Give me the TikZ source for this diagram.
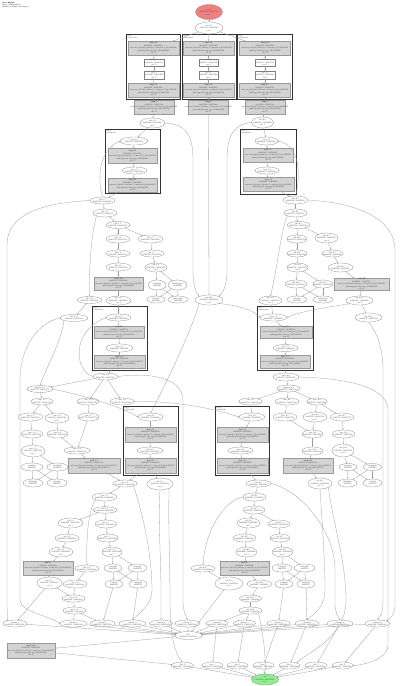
\documentclass[tikz,border=0pt]{standalone}
\usepackage{fontspec}
\setmainfont{Liberation Serif}
\usetikzlibrary{shapes.geometric,arrows.meta}
\definecolor{redfill}{HTML}{F08080}
\definecolor{greenfill}{HTML}{90EE90}
\definecolor{grayfill}{HTML}{D3D3D3}
\definecolor{edgecol}{HTML}{9A9A9A}
\tikzset{
 en/.style={ellipse,draw=black!45,line width=0.3pt,inner sep=0pt,outer sep=0pt},
 gr/.style={rectangle,draw=black!40,fill=grayfill,line width=0.3pt,inner sep=0pt,outer sep=0pt},
 wr/.style={rectangle,draw=black!50,fill=white,line width=0.3pt,inner sep=0pt,outer sep=0pt},
 lbl/.style={inner sep=0pt,outer sep=0pt,align=center,font=\fontsize{2}{2.35}\selectfont,text=black!75},
 cl/.style={draw=black!80,line width=0.9pt},
 cll/.style={inner sep=0pt,align=left,anchor=north west,font=\fontsize{1.7}{2}\selectfont,text=black!75},
 ed/.style={draw=edgecol,line width=0.28pt,-{Stealth[length=1.5pt,width=1.2pt]}},
}
\newcommand{\EN}[6]{\node[en,minimum width=#4pt,minimum height=#5pt,label={[lbl]center:{#6}}] (#1) at (#2,#3) {};}
\newcommand{\GR}[6]{\node[gr,minimum width=#4pt,minimum height=#5pt,label={[lbl]center:{#6}}] (#1) at (#2,#3) {};}
\newcommand{\WR}[6]{\node[wr,minimum width=#4pt,minimum height=#5pt,label={[lbl]center:{#6}}] (#1) at (#2,#3) {};}
\newcommand{\lblA}[2]{#1\\0x40#2 - 0x40#2c}
\newcommand{\lblB}[3]{#1\\0x40#2 - 0x40#2c\\#3}
\newcommand{\lblC}[2]{#1\\#2}
\newcommand{\lblG}[2]{\textbf{#1}\\0x40#2 - 0x40#2c\\mov eax, [ebp-0xc]; add eax, 1; cmp eax, 9; jle 0x40#2\\push ebp; mov ebp, esp; call 0x40#2\\cnt: 12}
\begin{document}
\begin{tikzpicture}[x=1pt,y=-1pt]
\fill[white] (0,0) rectangle (400,686);
\useasboundingbox (0,0) rectangle (400,686);
\node[anchor=north west,inner sep=0pt,align=left,font=\fontsize{1.8}{2.1}\selectfont] (hdr) at (2,2) {\textbf{trace\_callgraph}\\binary: ./a.out (pid 4312)\\functions: 131, edges: 218, loops: 9};
% top
\node[en,fill=redfill,minimum width=27pt,minimum height=15pt,label={[lbl]center:{\lblB{main}{1000}{cnt: 1}}}] (start) at (209,12) {};
\EN{n0}{209}{28}{28}{12}{\lblB{init\_0.1}{1030}{cnt: 1}}
% clusters 1-3
\draw[cl] (126,34) rectangle (180.5,99);
\node[cll] (c1l) at (127.5,35.5) {loop\_1\\hdr 0x401040};
\GR{g1a}{153.5}{48}{51}{14}{\lblG{loop\_1.0}{1040}}
\WR{r1a}{154}{62.5}{19.5}{7.5}{\lblB{bb\_1.1}{1070}{cnt: 3}}
\WR{r1b}{154}{75}{19.5}{8}{\lblB{bb\_1.2}{1080}{cnt: 3}}
\GR{g1b}{153.5}{90}{51}{14}{\lblG{loop\_1.3}{1090}}
\draw[cl] (182,34) rectangle (236,99);
\node[cll] (c2l) at (183.5,35.5) {loop\_2\\hdr 0x401140};
\GR{g2a}{208.5}{48}{51}{14}{\lblG{loop\_2.0}{1140}}
\WR{r2a}{208.5}{62.5}{19.5}{7.5}{\lblB{bb\_2.1}{1170}{cnt: 3}}
\WR{r2b}{208.5}{75}{19.5}{8}{\lblB{bb\_2.2}{1180}{cnt: 3}}
\GR{g2b}{208.5}{90}{51}{14}{\lblG{loop\_2.3}{1190}}
\draw[cl] (237,34) rectangle (292,99);
\node[cll] (c3l) at (238.5,35.5) {loop\_3\\hdr 0x401240};
\GR{g3a}{265}{48}{51}{14}{\lblG{loop\_3.0}{1240}}
\WR{r3a}{265}{62.5}{19.5}{7.5}{\lblB{bb\_3.1}{1270}{cnt: 3}}
\WR{r3b}{265}{75}{19.5}{8}{\lblB{bb\_3.2}{1280}{cnt: 3}}
\GR{g3b}{265}{90}{51}{14}{\lblG{loop\_3.3}{1290}}
\GR{h1}{154}{107}{40}{14}{\lblG{setup\_a}{1300}}
\GR{h2}{208.5}{107}{40}{14}{\lblG{setup\_b}{1340}}
\GR{h3}{265}{107}{40}{14}{\lblG{setup\_c}{1380}}
\EN{L0}{152.5}{123}{25}{10}{\lblB{run\_L.0}{1400}{cnt: 2}}
\EN{R0}{262.5}{122.5}{22}{11}{\lblB{run\_R.0}{2400}{cnt: 2}}
% cluster 4
\draw[cl] (105,129) rectangle (160,193);
\node[cll] (c4l) at (106.5,130.5) {loop\_4\\hdr 0x401410};
\EN{c4a}{134}{141}{28}{8}{\lblA{loop\_4.0}{1410}}
\GR{c4g1}{132.5}{156}{49}{15}{\lblG{loop\_4.1}{1420}}
\EN{c4b}{134.5}{170.5}{25}{7}{\lblA{loop\_4.2}{1450}}
\GR{c4g2}{132.5}{185}{49}{13.5}{\lblG{loop\_4.3}{1460}}
% cluster 5
\draw[cl] (240,129) rectangle (296,194);
\node[cll] (c5l) at (241.5,130.5) {loop\_5\\hdr 0x402410};
\EN{c5a}{266.5}{141}{23}{8}{\lblA{loop\_5.0}{2410}}
\GR{c5g1}{268}{155}{50}{14}{\lblG{loop\_5.1}{2420}}
\EN{c5b}{267}{170.5}{24}{7}{\lblA{loop\_5.2}{2450}}
\GR{c5g2}{268.5}{184.5}{51}{14}{\lblG{loop\_5.3}{2460}}
% left middle
\EN{L1}{102.5}{200.5}{25}{7}{\lblA{blk\_L.1}{1500}}
\EN{L2}{105}{213}{24}{8}{\lblA{blk\_L.2}{1510}}
\EN{L3}{118}{225}{24}{7}{\lblA{blk\_L.3}{1520}}
\EN{L4}{118}{239}{24}{8}{\lblA{blk\_L.4}{1530}}
\EN{L4s}{150.5}{239}{25}{8}{\lblA{blk\_L.5}{1540}}
\EN{L5}{118}{253.5}{24}{7}{\lblA{blk\_L.6}{1550}}
\EN{L5s}{152}{253.5}{24}{7}{\lblA{blk\_L.7}{1560}}
\EN{L6}{118.5}{267}{25}{8}{\lblA{blk\_L.8}{1570}}
\EN{L6s}{156}{267.5}{22}{9}{\lblB{blk\_L.9}{1580}{cnt: 4}}
\GR{Lg}{118.5}{283.5}{49}{13}{\lblG{work\_L.0}{1590}}
\EN{La}{157}{285}{18}{10}{\lblC{strlen@plt}{0x4010a0}}
\EN{Lb}{177.5}{285}{19}{10}{\lblC{memcpy@plt}{0x4010b0}}
\EN{Lc}{156}{299.5}{18}{7}{\lblC{free@plt}{0x4010c0}}
\EN{Ld}{178}{299.5}{20}{7}{\lblC{malloc@plt}{0x4010d0}}
\EN{Lx}{89.5}{300}{25}{7}{\lblA{blk\_L.10}{15a0}}
\EN{L7}{118.5}{300.5}{25}{9}{\lblB{blk\_L.11}{15b0}{cnt: 4}}
\EN{M}{209}{300}{28}{10}{\lblB{join\_M.0}{3000}{cnt: 2}}
% right middle
\EN{R1}{295.5}{200}{25}{8}{\lblA{blk\_R.1}{2500}}
\EN{R2}{295.5}{213}{23}{8}{\lblA{blk\_R.2}{2510}}
\EN{R3}{298.5}{225}{23}{7}{\lblA{blk\_R.3}{2520}}
\EN{R4}{297}{239}{20}{8}{\lblA{blk\_R.4}{2530}}
\EN{R4s}{326.5}{238}{23}{10}{\lblB{blk\_R.5}{2540}{cnt: 4}}
\EN{R5}{297}{253.5}{20}{7}{\lblA{blk\_R.6}{2550}}
\EN{R5s}{332.5}{253.5}{21}{7}{\lblA{blk\_R.7}{2560}}
\EN{R6}{297.5}{267.5}{21}{9}{\lblB{blk\_R.8}{2570}{cnt: 4}}
\EN{R6s}{340.5}{267.5}{25}{9}{\lblA{blk\_R.9}{2580}}
\EN{Ra}{296}{284}{22}{8}{\lblA{blk\_R.10}{25a0}}
\EN{Rb}{323}{284}{20}{8}{\lblA{blk\_R.11}{25b0}}
\EN{Rc}{297}{299.5}{20}{7}{\lblC{free@plt}{0x4010c0}}
\EN{Rd}{323}{299.5}{20}{7}{\lblC{malloc@plt}{0x4010d0}}
\GR{Rg}{361.5}{284}{55}{12}{\lblG{work\_R.0}{2590}}
\EN{Rx}{270.5}{300.5}{23}{9}{\lblB{blk\_R.12}{25c0}{cnt: 4}}
\EN{R7}{359.5}{300.5}{27}{9}{\lblB{blk\_R.13}{25d0}{cnt: 4}}
\EN{R8}{368.5}{317.5}{27}{9}{\lblA{blk\_R.14}{25e0}}
\EN{Lout}{74}{318}{28}{7}{\lblA{blk\_L.12}{15c0}}
% cluster 6
\draw[cl] (92,306) rectangle (147,370);
\node[cll] (c6l) at (93.5,307.5) {loop\_6\\hdr 0x401600};
\EN{c6a}{118.5}{317.5}{25}{7}{\lblA{loop\_6.0}{1600}}
\GR{c6g1}{119}{332}{50}{12}{\lblG{loop\_6.1}{1610}}
\EN{c6b}{119.5}{348}{27}{8}{\lblA{loop\_6.2}{1640}}
\GR{c6g2}{119.5}{361.5}{51}{13}{\lblG{loop\_6.3}{1650}}
% cluster 7
\draw[cl] (257,306) rectangle (313,370);
\node[cll] (c7l) at (258.5,307.5) {loop\_7\\hdr 0x402600};
\EN{c7a}{273.5}{317.5}{27}{7}{\lblA{loop\_7.0}{2600}}
\GR{c7g1}{286}{332}{52}{12}{\lblG{loop\_7.1}{2610}}
\EN{c7b}{285.5}{348}{25}{7}{\lblA{loop\_7.2}{2640}}
\GR{c7g2}{285}{361.5}{50}{13}{\lblG{loop\_7.3}{2650}}
% left lower group
\EN{L8}{105.5}{376.5}{25}{7}{\lblA{next\_L.0}{1700}}
\EN{A1}{40}{389}{26}{7}{\lblA{dispatch\_L.1}{1710}}
\EN{A2}{42}{401.5}{22}{7}{\lblA{case\_L.2}{1720}}
\EN{A3}{88}{401.5}{22}{7}{\lblA{case\_L.3}{1730}}
\EN{A4}{122}{401.5}{24}{7}{\lblA{case\_L.4}{1740}}
\EN{A5}{30.5}{417}{25}{8}{\lblA{case\_L.5}{1750}}
\EN{A6}{57}{418}{24}{10}{\lblB{case\_L.6}{1760}{cnt: 2}}
\EN{A7}{88.5}{417}{21}{8}{\lblA{case\_L.7}{1770}}
\EN{A8}{32}{434}{22}{8}{\lblA{case\_L.8}{1780}}
\EN{A9}{57.5}{434}{21}{8}{\lblA{case\_L.9}{1790}}
\EN{A10}{77}{450.5}{26}{7}{\lblA{case\_L.10}{17a0}}
\EN{A11}{33}{451}{24}{12}{\lblB{case\_L.11}{17b0}{cnt: 2}}
\EN{A12}{32}{467}{22}{8}{\lblC{puts@plt}{0x4010e0}}
\EN{A13}{57.5}{467}{21}{8}{\lblC{printf@plt}{0x4010f0}}
\EN{A14}{33}{483}{20}{8}{\lblC{fflush@plt}{0x401100}}
\EN{A15}{57}{483}{20}{8}{\lblC{exit@plt}{0x401110}}
\GR{Ag}{94}{465.5}{52}{15}{\lblG{work\_L.1}{17c0}}
% cluster 8
\draw[cl] (123,406) rectangle (178,475);
\node[cll] (c8l) at (124.5,407.5) {loop\_8\\hdr 0x401800};
\EN{c8a}{150.5}{417}{25}{8}{\lblA{loop\_8.0}{1800}}
\GR{c8g1}{150.5}{434.5}{51}{15}{\lblG{loop\_8.1}{1810}}
\EN{c8b}{150}{450.5}{26}{7}{\lblA{loop\_8.2}{1840}}
\GR{c8g2}{150.5}{465.5}{51}{15}{\lblG{loop\_8.3}{1850}}
% right lower group
\EN{B0}{286}{377}{26}{8}{\lblA{next\_R.0}{2700}}
\EN{B1}{288.5}{388.5}{23}{7}{\lblA{dispatch\_R.1}{2710}}
\EN{B2}{250.5}{401.5}{23}{7}{\lblA{case\_R.2}{2720}}
\EN{B3}{287}{401.5}{24}{7}{\lblA{case\_R.3}{2730}}
\EN{B4}{317}{401.5}{20}{7}{\lblA{case\_R.4}{2740}}
\EN{B5}{285}{417}{24}{8}{\lblA{case\_R.5}{2750}}
\EN{B6}{315}{417}{24}{10}{\lblB{case\_R.6}{2760}{cnt: 2}}
\EN{B7}{342}{417}{24}{8}{\lblA{case\_R.7}{2770}}
\EN{B8}{312.5}{434}{21}{8}{\lblA{case\_R.8}{2780}}
\EN{B9}{343.5}{434}{23}{8}{\lblA{case\_R.9}{2790}}
\EN{B10}{312.5}{451}{21}{8}{\lblA{case\_R.10}{27a0}}
\EN{B11}{343}{450.5}{22}{13}{\lblB{case\_R.11}{27b0}{cnt: 2}}
\GR{Bg}{308}{465.5}{50}{15}{\lblG{work\_R.1}{27c0}}
\EN{B12}{348}{467}{18}{7}{\lblC{puts@plt}{0x4010e0}}
\EN{B13}{372.5}{467}{19}{7}{\lblC{printf@plt}{0x4010f0}}
\EN{B14}{347.5}{483}{19}{8}{\lblC{fflush@plt}{0x401100}}
\EN{B15}{372.5}{483}{19}{8}{\lblC{exit@plt}{0x401110}}
% cluster 9
\draw[cl] (215,406) rectangle (269,475);
\node[cll] (c9l) at (216.5,407.5) {loop\_9\\hdr 0x402800};
\EN{c9a}{252}{417}{26}{8}{\lblA{loop\_9.0}{2800}}
\GR{c9g1}{242.5}{434.5}{51}{15}{\lblG{loop\_9.1}{2810}}
\EN{c9b}{240.5}{450.5}{25}{7}{\lblA{loop\_9.2}{2840}}
\GR{c9g2}{242.5}{465.5}{51}{15}{\lblG{loop\_9.3}{2850}}
% bottom left chain
\EN{C1}{125}{483.5}{24}{7}{\lblA{tail\_L.0}{1900}}
\EN{C2}{160}{484}{26}{12}{\lblB{tail\_L.1}{1910}{cnt: 6}}
\EN{C3}{104.5}{497}{25}{8}{\lblA{tail\_L.2}{1920}}
\EN{C4}{105}{510}{24}{6.5}{\lblA{tail\_L.3}{1930}}
\EN{C5}{70.5}{523}{25}{10}{\lblB{tail\_L.4}{1940}{cnt: 2}}
\EN{C6}{106}{524}{22}{8}{\lblA{tail\_L.5}{1950}}
\EN{C7}{67}{538}{24}{8}{\lblA{tail\_L.6}{1960}}
\EN{C8}{107.5}{538}{21}{8}{\lblA{tail\_L.7}{1970}}
\EN{C9}{61}{552}{24}{10}{\lblB{tail\_L.8}{1980}{cnt: 2}}
\EN{C10}{112}{552}{20}{10}{\lblB{tail\_L.9}{1990}{cnt: 2}}
\GR{Cg}{48}{568}{50}{14}{\lblG{final\_L}{19a0}}
\EN{C11}{87}{568.5}{24}{7}{\lblA{tail\_L.10}{19b0}}
\EN{C12}{113}{568}{18}{8}{\lblC{close@plt}{0x401120}}
\EN{C13}{137.5}{568}{19}{8}{\lblC{write@plt}{0x401130}}
\EN{C14}{49.5}{583}{25}{12}{\lblB{tail\_L.11}{19c0}{cnt: 1}}
\EN{C15}{75}{584}{24}{8}{\lblA{tail\_L.12}{19d0}}
\EN{C16}{114}{584}{18}{8}{\lblC{read@plt}{0x401140}}
\EN{C17}{138}{584}{18}{8}{\lblC{open@plt}{0x401150}}
\EN{C18}{73.5}{598.5}{23}{7}{\lblA{tail\_L.13}{19e0}}
\EN{C19}{74.5}{610.5}{23}{7}{\lblA{tail\_L.14}{19f0}}
% bottom right chain
\EN{D1}{258.5}{483.5}{25}{7}{\lblA{tail\_R.0}{2900}}
\EN{D2}{320}{483.5}{24}{11}{\lblB{tail\_R.1}{2910}{cnt: 6}}
\EN{D3}{254.5}{497}{23}{8}{\lblA{tail\_R.2}{2920}}
\EN{D4}{254}{510}{22}{8}{\lblA{tail\_R.3}{2930}}
\EN{D5}{248.5}{523}{23}{10}{\lblB{tail\_R.4}{2940}{cnt: 2}}
\EN{D6}{279}{524}{22}{8}{\lblA{tail\_R.5}{2950}}
\EN{D7}{244.5}{538}{23}{8}{\lblA{tail\_R.6}{2960}}
\EN{D8}{280}{538}{20}{8}{\lblA{tail\_R.7}{2970}}
\EN{D9}{246.5}{552}{21}{10}{\lblB{tail\_R.8}{2980}{cnt: 2}}
\EN{D10}{282.5}{552}{21}{10}{\lblB{tail\_R.9}{2990}{cnt: 2}}
\GR{Dg}{244.5}{568}{49}{14}{\lblG{final\_R}{29a0}}
\EN{D11}{203}{568.5}{24}{7}{\lblA{tail\_R.10}{29b0}}
\EN{D12}{282}{568}{20}{8}{\lblC{close@plt}{0x401120}}
\EN{D13}{304.5}{568}{21}{8}{\lblC{write@plt}{0x401130}}
\EN{D14}{229}{583.5}{28}{13}{\lblB{tail\_R.11}{29c0}{cnt: 1}}
\EN{D15}{259.5}{584}{25}{8}{\lblA{tail\_R.12}{29d0}}
\EN{D16}{284}{584}{18}{8}{\lblC{read@plt}{0x401140}}
\EN{D17}{306}{584}{18}{8}{\lblC{open@plt}{0x401150}}
\EN{D18}{250.5}{598.5}{22}{7}{\lblA{tail\_R.13}{29e0}}
\EN{D19}{250.5}{610.5}{23}{7}{\lblA{tail\_R.14}{29f0}}
% row 623
\EN{E1}{15}{623.5}{24}{7}{\lblA{cleanup\_0}{3100}}
\EN{E2}{73.5}{623.5}{27}{7}{\lblA{cleanup\_1}{3110}}
\EN{E3}{102.5}{623.5}{25}{7}{\lblA{cleanup\_2}{3120}}
\EN{E4}{132.5}{623.5}{27}{7}{\lblA{cleanup\_3}{3130}}
\EN{E5}{161}{623.5}{23}{7}{\lblA{cleanup\_4}{3140}}
\EN{E6}{187.5}{623.5}{25}{7}{\lblA{cleanup\_5}{3150}}
\EN{E7}{217}{623.5}{22}{7}{\lblA{cleanup\_6}{3160}}
\EN{E8}{244.5}{623.5}{22}{7}{\lblA{cleanup\_7}{3170}}
\EN{E9}{278.5}{623.5}{23}{7}{\lblA{cleanup\_8}{3180}}
\EN{E10}{307}{623.5}{24}{7}{\lblA{cleanup\_9}{3190}}
\EN{E11}{340}{623.5}{26}{7}{\lblA{cleanup\_10}{31a0}}
\EN{E12}{377.5}{623.5}{25}{7}{\lblA{cleanup\_11}{31b0}}
\EN{X}{188.5}{635.5}{27}{8}{\lblC{fini}{0x403200 - 0x40320c}}
\GR{F}{31}{650.5}{48}{15}{\lblG{atexit\_run}{3300}}
\EN{G1}{182.5}{665.5}{22}{7}{\lblA{dtor\_0}{3400}}
\EN{G2}{212.5}{665.5}{21}{7}{\lblA{dtor\_1}{3410}}
\EN{G3}{237.5}{665.5}{21}{7}{\lblA{dtor\_2}{3420}}
\EN{G4}{263.5}{665.5}{21}{7}{\lblA{dtor\_3}{3430}}
\EN{G5}{289.5}{665.5}{21}{7}{\lblA{dtor\_4}{3440}}
\EN{G6}{316}{665.5}{22}{7}{\lblA{dtor\_5}{3450}}
\EN{G7}{342.5}{665.5}{21}{7}{\lblA{dtor\_6}{3460}}
\node[en,fill=greenfill,minimum width=27pt,minimum height=11pt,label={[lbl]center:{\lblB{exit}{3500}{cnt: 1}}}] (end) at (265,679.5) {};
% ---------------- edges ----------------
\draw[ed] (start) -- (n0);
\draw[ed] (n0) -- (g1a); \draw[ed] (n0) -- (g2a); \draw[ed] (n0) -- (g3a);
\foreach \i in {1,2,3}{
 \draw[ed] (g\i a) -- (r\i a); \draw[ed] (r\i a) -- (r\i b); \draw[ed] (r\i b) -- (g\i b);
}
\draw[ed] (g1b) -- (h1); \draw[ed] (g2b) -- (h2); \draw[ed] (g3b) -- (h3);
\draw[ed] (h1) -- (L0); \draw[ed] (h3) -- (R0);
\draw[ed] (h2) -- (M);
\draw[ed] (L0) -- (c4a); \draw[ed] (c4a) -- (c4g1); \draw[ed] (c4g1) -- (c4b); \draw[ed] (c4b) -- (c4g2); \draw[ed] (c4g2) -- (L1);
\draw[ed] (L1.north) .. controls (97,178) and (99,150) .. (c4a.west);
\draw[ed] (L0.east) .. controls (186,124) and (193,135) .. (193,160) -- (193,270) .. controls (193,288) and (197,293) .. (M.north west);
\draw[ed] (R0) -- (c5a); \draw[ed] (c5a) -- (c5g1); \draw[ed] (c5g1) -- (c5b); \draw[ed] (c5b) -- (c5g2); \draw[ed] (c5g2) -- (R1);
\draw[ed] (R1.north) .. controls (301,175) and (300,146) .. (c5a.east);
\draw[ed] (R0.west) .. controls (234,124) and (227,135) .. (227,160) -- (227,270) .. controls (227,288) and (222,293) .. (M.north east);
\draw[ed] (L1.west) .. controls (40,203) and (7,215) .. (7,245) -- (7,605) .. controls (7,614) and (9,618) .. (E1.north west);
\draw[ed] (R1.east) .. controls (360,203) and (395,220) .. (395,250) -- (395,605) .. controls (395,614) and (391,618) .. (E12.north east);
\draw[ed] (L1) -- (L2); \draw[ed] (L2) -- (L3); \draw[ed] (L3) -- (L4); \draw[ed] (L4) -- (L5); \draw[ed] (L5) -- (L6); \draw[ed] (L6) -- (Lg); \draw[ed] (Lg) -- (L7); \draw[ed] (L7) -- (c6a);
\draw[ed] (c6a) -- (c6g1); \draw[ed] (c6g1) -- (c6b); \draw[ed] (c6b) -- (c6g2); \draw[ed] (c6g2) -- (L8);
\draw[ed] (L2.south west) .. controls (91,235) and (89,270) .. (Lx.north);
\draw[ed] (Lx) -- (Lout);
\draw[ed] (L3) -- (L4s); \draw[ed] (L4s) -- (L5s); \draw[ed] (L5s) -- (L6s); \draw[ed] (L6s) -- (La); \draw[ed] (L6s) -- (Lb);
\draw[ed] (La) -- (Lc); \draw[ed] (La) -- (Ld); \draw[ed] (Lb) -- (Lc); \draw[ed] (Lb) -- (Ld);
\draw[ed] (M.south east) .. controls (235,305) and (252,309) .. (c7a.west);
\draw[ed] (M.south west) .. controls (192,330) and (162,392) .. (c8a.north);
\draw[ed] (R1) -- (R2); \draw[ed] (R2) -- (R3); \draw[ed] (R3) -- (R4); \draw[ed] (R4) -- (R5); \draw[ed] (R5) -- (R6); \draw[ed] (R6) -- (Ra); \draw[ed] (R6) -- (Rb);
\draw[ed] (Ra) -- (Rc); \draw[ed] (Ra) -- (Rd); \draw[ed] (Rb) -- (Rc); \draw[ed] (Rb) -- (Rd);
\draw[ed] (R3) -- (R4s); \draw[ed] (R4s) -- (R5s); \draw[ed] (R5s) -- (R6s); \draw[ed] (R6s) -- (Rg); \draw[ed] (Rg) -- (R7); \draw[ed] (R7) -- (R8);
\draw[ed] (R7.south west) .. controls (335,306) and (300,311) .. (c7a.east);
\draw[ed] (R2.south west) .. controls (281,230) and (277,270) .. (Rx.north);
\draw[ed] (Rx) -- (c7a);
\draw[ed] (c7a) -- (c7g1); \draw[ed] (c7g1) -- (c7b); \draw[ed] (c7b) -- (c7g2); \draw[ed] (c7g2) -- (B0);
\draw[ed] (Lout.south west) .. controls (60,345) and (45,370) .. (A1.north);
\draw[ed] (Lout.west) .. controls (40,322) and (20,345) .. (20,380) -- (20,600) .. controls (20,612) and (50,616) .. (E2.west);
\draw[ed] (L8.west) .. controls (75,372) and (70,332) .. (c6a.west);
\draw[ed] (L8) -- (A1); \draw[ed] (L8) -- (A3); \draw[ed] (L8) -- (A4);
\draw[ed] (L8.east) .. controls (150,372) and (183,378) .. (183,400) -- (183,600) .. controls (183,612) and (186,616) .. (E6.north);
\draw[ed] (A1) -- (A2);
\draw[ed] (A1.east) .. controls (80,395) and (118,405) .. (c8a.west);
\draw[ed] (A2) -- (A5); \draw[ed] (A2) -- (A6); \draw[ed] (A5) -- (A8); \draw[ed] (A6) -- (A9); \draw[ed] (A8) -- (A11); \draw[ed] (A9) -- (A10);
\draw[ed] (A3) -- (A7); \draw[ed] (A7) -- (A10); \draw[ed] (A10) -- (Ag);
\draw[ed] (A11) -- (A12); \draw[ed] (A11) -- (A13);
\draw[ed] (A12) -- (A14); \draw[ed] (A12) -- (A15); \draw[ed] (A13) -- (A14); \draw[ed] (A13) -- (A15);
\draw[ed] (A4.east) .. controls (160,401) and (200,404) .. (c9a.west);
\draw[ed] (c8a) -- (c8g1); \draw[ed] (c8g1) -- (c8b); \draw[ed] (c8b) -- (c8g2); \draw[ed] (c8g2) -- (C2); \draw[ed] (c8g2) -- (C1);
\draw[ed] (Ag) -- (C1);
\draw[ed] (B0) -- (B1); \draw[ed] (B1) -- (B2); \draw[ed] (B1) -- (B3); \draw[ed] (B1) -- (B4);
\draw[ed] (B3) -- (B5); \draw[ed] (B4) -- (B6); \draw[ed] (B4) -- (B7); \draw[ed] (B5) -- (B8); \draw[ed] (B6) -- (B8);
\draw[ed] (B7) -- (B9); \draw[ed] (B8) -- (B10); \draw[ed] (B9) -- (B11); \draw[ed] (B10) -- (Bg);
\draw[ed] (B11) -- (B12); \draw[ed] (B11) -- (B13);
\draw[ed] (B12) -- (B14); \draw[ed] (B12) -- (B15); \draw[ed] (B13) -- (B14); \draw[ed] (B13) -- (B15);
\draw[ed] (B2) -- (c9a);
\draw[ed] (B0.east) .. controls (340,378) and (388,385) .. (388,410) -- (388,645) .. controls (388,660) and (362,665) .. (G7.east);
\draw[ed] (R8.south) .. controls (375,330) and (383,345) .. (383,370) -- (383,605) .. controls (383,612) and (380,616) .. (E12.north);
\draw[ed] (c9a) -- (c9g1); \draw[ed] (c9g1) -- (c9b); \draw[ed] (c9b) -- (c9g2); \draw[ed] (c9g2) -- (D1);
\draw[ed] (Bg) -- (D2);
\draw[ed] (C1) -- (C3);
\draw[ed] (C1.south east) .. controls (145,520) and (152,560) .. (152,590) .. controls (152,605) and (140,612) .. (E4.north);
\draw[ed] (C2.south) .. controls (158,520) and (161,560) .. (161,590) -- (E5.north);
\draw[ed] (C2.south east) .. controls (168,520) and (170,560) .. (170,600) .. controls (170,640) and (176,655) .. (G1.north);
\draw[ed] (C3) -- (C4); \draw[ed] (C4) -- (C5); \draw[ed] (C4) -- (C6); \draw[ed] (C5) -- (C7); \draw[ed] (C6) -- (C8);
\draw[ed] (C7) -- (C9); \draw[ed] (C8) -- (C10); \draw[ed] (C9) -- (Cg); \draw[ed] (C10) -- (C12); \draw[ed] (C10) -- (C13);
\draw[ed] (C3.south west) .. controls (88,510) and (86,540) .. (C11.north);
\draw[ed] (C12) -- (C16); \draw[ed] (C12) -- (C17); \draw[ed] (C13) -- (C16); \draw[ed] (C13) -- (C17);
\draw[ed] (Cg) -- (C14); \draw[ed] (C11) -- (C15); \draw[ed] (C15) -- (C18); \draw[ed] (C14) -- (C18); \draw[ed] (C18) -- (C19);
\draw[ed] (C19) -- (E2); \draw[ed] (C19) -- (E3); \draw[ed] (C14) -- (E1); \draw[ed] (C16) -- (E3); \draw[ed] (C17) -- (E4);
\draw[ed] (D1) -- (D3);
\draw[ed] (D1.east) .. controls (300,490) and (335,530) .. (335,570) -- (335,605) .. controls (335,612) and (338,616) .. (E11.north);
\draw[ed] (D2.south) .. controls (322,520) and (325,560) .. (325,590) .. controls (325,608) and (313,614) .. (E10.north);
\draw[ed] (D2.south east) .. controls (332,520) and (346,560) .. (346,600) .. controls (346,640) and (302,655) .. (G5.north east);
\draw[ed] (D3) -- (D4); \draw[ed] (D4) -- (D5); \draw[ed] (D4) -- (D6); \draw[ed] (D5) -- (D7); \draw[ed] (D6) -- (D8);
\draw[ed] (D7) -- (D9); \draw[ed] (D8) -- (D10); \draw[ed] (D9) -- (Dg); \draw[ed] (D10) -- (D12); \draw[ed] (D10) -- (D13);
\draw[ed] (D3.west) .. controls (225,500) and (205,530) .. (D11.north);
\draw[ed] (D12) -- (D16); \draw[ed] (D12) -- (D17); \draw[ed] (D13) -- (D16); \draw[ed] (D13) -- (D17);
\draw[ed] (Dg) -- (D15); \draw[ed] (D11) -- (D14); \draw[ed] (D15) -- (D18); \draw[ed] (D18) -- (D19);
\draw[ed] (D19) -- (E7); \draw[ed] (D19) -- (E8); \draw[ed] (D16) -- (E9); \draw[ed] (D17) -- (E10); \draw[ed] (D14) -- (X);
\draw[ed] (D19.south east) .. controls (262,630) and (266,650) .. (end.north);
\foreach \e in {E1,E2,E3,E4,E5,E6,E7,E8,E9,E10,E11,E12}{ \draw[ed] (\e) -- (X); }
\draw[ed] (X) -- (F); \draw[ed] (F) -- (G1);
\draw[ed] (E7) -- (G2); \draw[ed] (E8) -- (G3); \draw[ed] (E9) -- (G4); \draw[ed] (E10) -- (G5); \draw[ed] (E11) -- (G6); \draw[ed] (E12) -- (G7);
\foreach \g in {G1,G2,G3,G4,G5,G6,G7}{ \draw[ed] (\g) -- (end); }
\end{tikzpicture}
\end{document}
